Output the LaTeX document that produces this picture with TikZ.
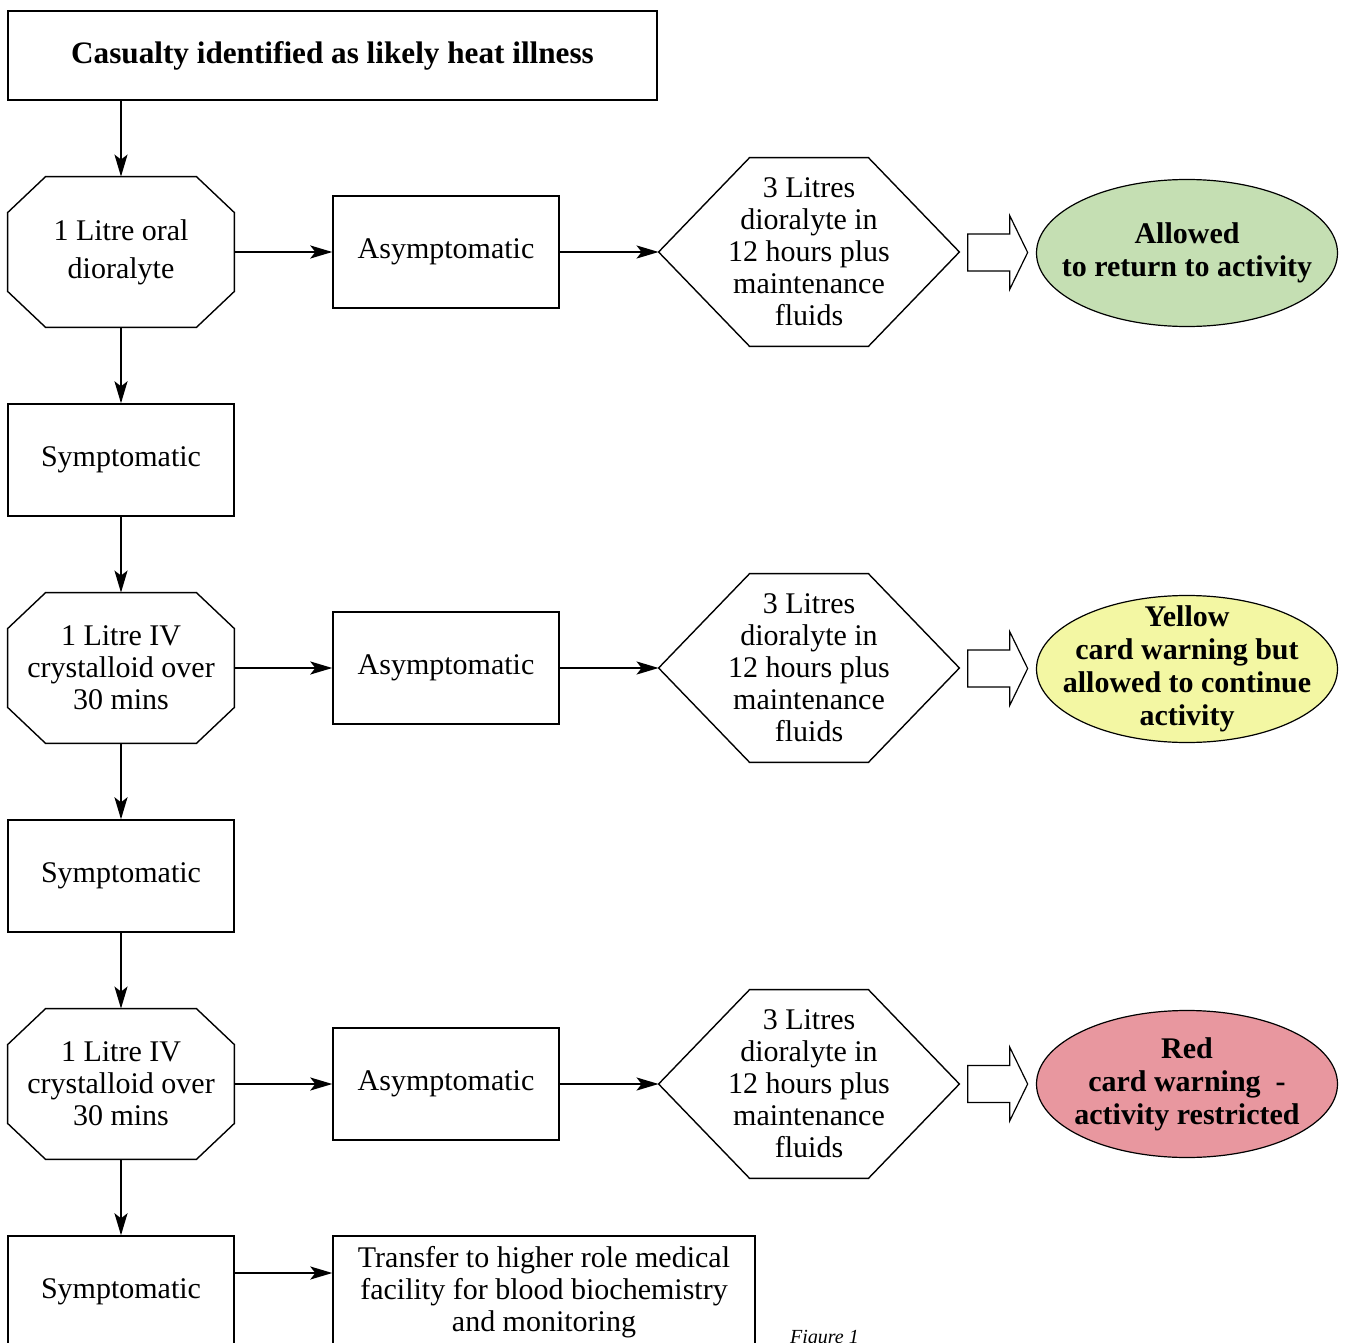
\documentclass[tikz,border=0pt]{standalone}
\usepackage{fontspec}
\setmainfont{Liberation Serif}
\usetikzlibrary{positioning, arrows.meta, calc, shapes.geometric}

\definecolor{okgreen}{RGB}{197,223,179}
\definecolor{warnyellow}{RGB}{243,247,163}
\definecolor{stopred}{RGB}{232,151,159}

\begin{document}
\begin{tikzpicture}[
    x=0.5pt, y=-0.5pt,
    >={Stealth[length=11pt, width=6.5pt, inset=2.5pt]},
    font=\fontsize{15}{16}\selectfont,
    flow/.style={->, line width=1pt},
    plainbox/.style={draw, line width=0.7pt, minimum width=113pt, minimum height=56pt,
                     inner sep=0pt, align=center},
    octbox/.style={minimum width=113pt, minimum height=75pt, inner sep=0pt, align=center},
    hexbox/.style={minimum width=150pt, minimum height=94pt, inner sep=0pt, align=center},
    fatarrow/.style={draw, line width=0.6pt, fill=white},
    outcome/.style={ellipse, draw, line width=0.6pt, minimum width=150.5pt,
                    minimum height=73.5pt, inner xsep=-14pt, inner ysep=-10pt, align=center,
                    font=\fontsize{15}{16.5}\selectfont\bfseries},
]

\useasboundingbox (0,0) rectangle (1345,1343);

% --- top box ---
\node[plainbox, minimum width=324.5pt, minimum height=44.5pt,
      font=\fontsize{15.6}{16}\selectfont\bfseries]
    (start) at (332.5,55.5) {Casualty identified as likely heat illness};

% --- left column ---
\node[octbox] (oct1) at (121,252) {1 Litre oral\\[3pt]dioralyte};
\node[plainbox] (sym1) at (121,460) {Symptomatic};
\node[octbox] (oct2) at (121,668) {1 Litre IV\\crystalloid over\\30 mins};
\node[plainbox] (sym2) at (121,876) {Symptomatic};
\node[octbox] (oct3) at (121,1084) {1 Litre IV\\crystalloid over\\30 mins};
\node[plainbox] (sym3) at (121,1292) {Symptomatic};

% octagon outlines
\foreach \n in {oct1,oct2,oct3} {
    \draw[line width=0.7pt]
        ([xshift=19pt]\n.north west) -- ([xshift=-19pt]\n.north east)
        -- ([yshift=-18pt]\n.north east) -- ([yshift=18pt]\n.south east)
        -- ([xshift=-19pt]\n.south east) -- ([xshift=19pt]\n.south west)
        -- ([yshift=18pt]\n.south west) -- ([yshift=-18pt]\n.north west) -- cycle;
}

\draw[flow] (start.south -| oct1.north) -- (oct1.north);
\draw[flow] (oct1.south) -- (sym1.north);
\draw[flow] (sym1.south) -- (oct2.north);
\draw[flow] (oct2.south) -- (sym2.north);
\draw[flow] (sym2.south) -- (oct3.north);
\draw[flow] (oct3.south) -- (sym3.north);

% --- outcomes ---
\node[outcome, fill=okgreen] (out1) at (1187,253) {Allowed\\to return to activity};
\node[outcome, fill=warnyellow] (out2) at (1187,669)
    {Yellow\\card warning but\\allowed to continue\\activity};
\node[outcome, fill=stopred] (out3) at (1187,1084)
    {Red\\card warning\ \ -\\activity restricted};

% --- rows ---
\foreach \r/\yc in {1/252, 2/668, 3/1084} {
    \node[plainbox] (asym\r) at (446,\yc) {Asymptomatic};
    \node[hexbox] (hex\r) at (809,\yc)
        {3 Litres\\dioralyte in\\12 hours plus\\maintenance\\fluids};
    \draw[line width=0.7pt]
        (hex\r.west) -- ([xshift=45.5pt]hex\r.north west)
        -- ([xshift=-45.5pt]hex\r.north east) -- (hex\r.east)
        -- ([xshift=-45.5pt]hex\r.south east) -- ([xshift=45.5pt]hex\r.south west) -- cycle;
    % hollow block arrow hex -> outcome
    \coordinate (fat\r) at ($(hex\r.east)!0.5!(out\r.west)$);
    \draw[fatarrow]
        ([shift={(-30,-18.5)}]fat\r) -- ([shift={(12,-18.5)}]fat\r)
        -- ([shift={(12,-37)}]fat\r) -- ([shift={(30,0)}]fat\r)
        -- ([shift={(12,37)}]fat\r) -- ([shift={(12,18.5)}]fat\r)
        -- ([shift={(-30,18.5)}]fat\r) -- cycle;
    \draw[flow] (oct\r.east) -- (asym\r.west);
    \draw[flow] (asym\r.east) -- (hex\r.west);
}

% --- transfer ---
\node[plainbox, minimum width=211pt] (trans) at (544,1292)
    {Transfer to higher role medical\\facility for blood biochemistry\\and monitoring};
\draw[flow] ([yshift=9.5pt]sym3.east) -- ([yshift=9.5pt]sym3.east -| trans.west);

\node[anchor=base west, font=\fontsize{10}{12}\selectfont\itshape] (fig) at (783,1343) {Figure 1};

\end{tikzpicture}
\end{document}
